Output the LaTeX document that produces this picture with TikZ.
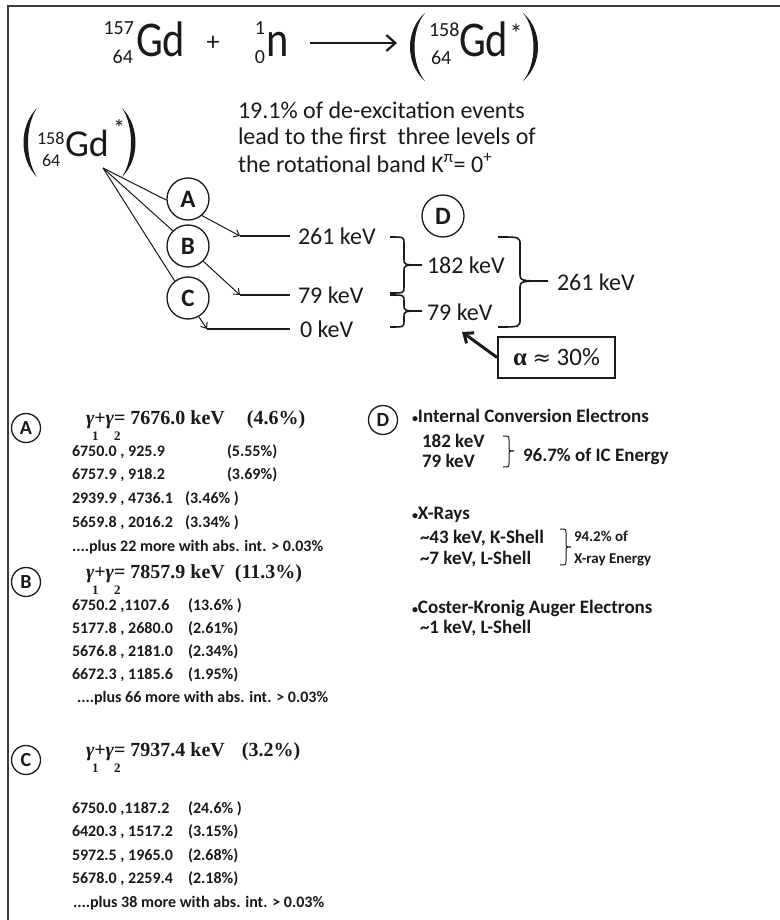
\documentclass[tikz,border=0pt]{standalone}
\usepackage{fontspec}
\setmainfont{Carlito}
\newfontfamily\nfont[FakeStretch=0.85]{Carlito}
\newfontfamily\serifb{Liberation Serif}
\newfontfamily\djv{DejaVu Sans}
\usetikzlibrary{arrows.meta}
\newcommand\fs[1]{\fontsize{#1}{#1}\selectfont}
\definecolor{ink}{HTML}{1A1A1A}
\begin{document}
\begin{tikzpicture}[x=1pt,y=-1pt,
  txt/.style={inner sep=0pt,outer sep=0pt,text=ink},
  circ/.style={circle,draw=ink,fill=white,line width=1.3,minimum size=42pt,inner sep=0pt,font=\bfseries\fs{25},text=ink},
  circs/.style={circle,draw=ink,fill=white,line width=1.3,minimum size=29pt,inner sep=0pt,font=\bfseries\fs{20},text=ink},
  row/.style={txt,anchor=base west,font=\bfseries\fs{16}},
  gam/.style={txt,anchor=base west,font=\serifb\bfseries\fs{20}},
  subs/.style={txt,anchor=base west,font=\serifb\bfseries\fs{13}},
  dtxt/.style={txt,anchor=base west,font=\bfseries\fs{19}},
  lvl/.style={txt,anchor=base west,font=\fs{24}},
  level/.style={draw=ink,line width=2.4},
  thinarr/.style={draw=ink,line width=1,-{Straight Barb[length=5pt,width=8pt]}},
  fan/.style={draw=ink,line width=1},
  bracepath/.style={draw=ink,line width=1.6},
  parfill/.style={fill=ink}]
\useasboundingbox (0,0) rectangle (779,920);
\fill[white] (0,0) rectangle (779,920);
\draw[ink!85,line width=1.6] (8,921) -- (8,6) -- (780,6);

% ---------- top equation ----------
\node[txt,anchor=base east,font=\fs{20}] (m157) at (134,35) {157};
\node[txt,anchor=base east,font=\fs{20}] (z64a) at (133,64) {64};
\node[txt,anchor=base west,font=\nfont\fs{50}] (gd1) at (136,57) {Gd};
\node[txt,font=\fs{26}] (plus) at (213,43) {+};
\node[txt,anchor=base east,font=\fs{20}] (m1) at (265,35) {1};
\node[txt,anchor=base east,font=\fs{20}] (z0) at (265,64) {0};
\node[txt,anchor=base west,font=\nfont\fs{50}] (nn) at (266,57) {n};
\coordinate (arrS) at (310,43);
\coordinate (arrE) at (397,43);
\draw[ink,line width=2.2,-{Straight Barb[length=9pt,width=16pt]}] (arrS) -- (arrE);
\fill[parfill] (425,13) .. controls (405,30) and (405,64) .. (425,81) .. controls (411,64) and (411,30) .. (425,13) -- cycle;
\node[txt,anchor=base west,font=\fs{20}] (m158) at (429,37) {158};
\node[txt,anchor=base west,font=\fs{20}] (z64b) at (431,65) {64};
\node[txt,anchor=base west,font=\nfont\fs{50}] (gd2) at (459,57) {Gd};
\node[txt,font=\fs{26}] (st1) at (516,33) {*};
\fill[parfill] (523,13) .. controls (543,30) and (543,64) .. (523,81) .. controls (537,64) and (537,30) .. (523,13) -- cycle;

% ---------- left excited nucleus ----------
\fill[parfill] (37,108) .. controls (19,126) and (19,159) .. (37,177) .. controls (25,159) and (25,126) .. (37,108) -- cycle;
\node[txt,anchor=base west,font=\fs{18}] (m158b) at (37,145) {158};
\node[txt,anchor=base west,font=\fs{18}] (z64c) at (42,167) {64};
\node[txt,anchor=base west,font=\fs{38}] (gd3) at (65,157) {Gd};
\node[txt,font=\fs{24}] (st2) at (119,128) {*};
\fill[parfill] (122,108) .. controls (140,126) and (140,159) .. (122,177) .. controls (134,159) and (134,126) .. (122,108) -- cycle;
\coordinate (apex) at (103,168);

% ---------- text ----------
\node[txt,anchor=base west,font=\fs{24}] (l1) at (238,119) {19.1\% of de-excitation events};
\node[txt,anchor=base west,font=\fs{24}] (l2) at (238,145) {lead to the first\ \ three levels of};
\node[txt,anchor=base west,font=\fs{24}] (l3) at (238,172) {the rotational band K\textsuperscript{π}= 0\textsuperscript{+}};

% ---------- levels ----------
\coordinate (l261s) at (240,236); \coordinate (l261e) at (290,236);
\coordinate (l79s) at (240,295);  \coordinate (l79e) at (290,295);
\coordinate (l0s) at (207,329);   \coordinate (l0e) at (290,329);
\draw[level] (l261s) -- (l261e);
\draw[level] (l79s) -- (l79e);
\draw[level] (l0s) -- (l0e);
\node[lvl] (t261) at (298,244) {261 keV};
\node[lvl] (t79) at (298,303) {79 keV};
\node[lvl] (t0) at (300,337) {0 keV};

\node[circ] (A) at (188,199) {A};
\node[circ] (B) at (188,246) {B};
\node[circ] (C) at (188,298) {C};
\node[circ] (D) at (443,216) {D};

\draw[fan] (apex) -- (A.183);
\draw[fan] (apex) -- (B.135);
\draw[fan] (apex) -- (C.128);
\draw[thinarr] (A.-50) -- (l261s);
\draw[thinarr] (B.-45) -- (l79s);
\draw[thinarr] (C.-60) -- (l0s);

% braces
\draw[bracepath] (390,237) .. controls (404,237) .. (404,243) -- (404,259) .. controls (404,265) .. (422,265)
   .. controls (404,265) .. (404,271) -- (404,287) .. controls (404,293) .. (390,293);
\draw[bracepath] (390,295) .. controls (404,295) .. (404,301) -- (404,305) .. controls (404,311) .. (422,311)
   .. controls (404,311) .. (404,317) -- (404,321) .. controls (404,327) .. (390,327);
\draw[bracepath] (498,237) .. controls (520,237) .. (520,245) -- (520,273) .. controls (520,281) .. (548,281)
   .. controls (520,281) .. (520,289) -- (520,319) .. controls (520,327) .. (498,327);
\node[lvl] (t182) at (427,273) {182 keV};
\node[lvl] (t79b) at (427,320) {79 keV};
\node[lvl] (t261b) at (557,290) {261 keV};

% alpha box
\node[draw=ink,line width=1.8,minimum width=117pt,minimum height=41pt,inner sep=0pt,font=\fs{25},text=ink] (alpha) at (556.5,357.5) {{\serifb\bfseries α} {\djv\fs{22}≈} 30\%};
\coordinate (atip) at (462,332);
\draw[ink,line width=3,-{Straight Barb[length=8pt,width=13pt]}] (alpha.west) -- (atip);

% ---------- section A ----------
\node[circs] (cA) at (26,428) {A};
\node[gam] (gA) at (86,424) {{\itshape γ}+{\itshape γ}= 7676.0 keV\hspace{22pt}(4.6\%)};
\node[subs] (gA1) at (92,440) {1};
\node[subs] (gA2) at (114,440) {2};
\node[row] (a1) at (72,456) {\makebox[155pt][l]{6750.0 , 925.9}(5.55\%)};
\node[row] (a2) at (72,479) {\makebox[155pt][l]{6757.9 , 918.2}(3.69\%)};
\node[row] (a3) at (72,503) {\makebox[113pt][l]{2939.9 , 4736.1}(3.46\% )};
\node[row] (a4) at (72,527) {\makebox[113pt][l]{5659.8 , 2016.2}(3.34\% )};
\node[row] (a5) at (72,551) {....plus 22 more with abs. int. > 0.03\%};

% ---------- section B ----------
\node[circs] (cB) at (26,582) {B};
\node[gam] (gB) at (86,578) {{\itshape γ}+{\itshape γ}= 7857.9 keV\hspace{10pt}(11.3\%)};
\node[subs] (gB1) at (92,594) {1};
\node[subs] (gB2) at (114,594) {2};
\node[row] (b1) at (72,610) {\makebox[116pt][l]{6750.2 ,1107.6}(13.6\% )};
\node[row] (b2) at (72,633) {\makebox[116pt][l]{5177.8 , 2680.0}(2.61\%)};
\node[row] (b3) at (72,656) {\makebox[116pt][l]{5676.8 , 2181.0}(2.34\%)};
\node[row] (b4) at (72,679) {\makebox[116pt][l]{6672.3 , 1185.6}(1.95\%)};
\node[row] (b5) at (77,702) {....plus 66 more with abs. int. > 0.03\%};

% ---------- section C ----------
\node[circs] (cC) at (26,760) {C};
\node[gam] (gC) at (86,756) {{\itshape γ}+{\itshape γ}= 7937.4 keV\hspace{17pt}(3.2\%)};
\node[subs] (gC1) at (92,772) {1};
\node[subs] (gC2) at (114,772) {2};
\node[row] (c1) at (72,813) {\makebox[116pt][l]{6750.0 ,1187.2}(24.6\% )};
\node[row] (c2) at (72,836) {\makebox[116pt][l]{6420.3 , 1517.2}(3.15\%)};
\node[row] (c3) at (72,860) {\makebox[116pt][l]{5972.5 , 1965.0}(2.68\%)};
\node[row] (c4) at (72,883) {\makebox[116pt][l]{5678.0 , 2259.4}(2.18\%)};
\node[row] (c5) at (73,907) {....plus 38 more with abs. int. > 0.03\%};

% ---------- section D ----------
\node[circs] (cD) at (383,420) {D};
\node[dtxt] (d1) at (412,422) {{\fs{12}•}Internal Conversion Electrons};
\node[dtxt] (d2) at (422,447) {182 keV};
\node[dtxt] (d3) at (422,467) {79 keV};
\draw[ink,line width=1] (503,436) .. controls (509,436) .. (509,440) -- (509,447) .. controls (509,451) .. (514,451)
   .. controls (509,451) .. (509,455) -- (509,463) .. controls (509,467) .. (503,467);
\node[dtxt] (d4) at (523,461) {96.7\% of IC Energy};
\node[dtxt] (d5) at (412,519) {{\fs{12}•}X-Rays};
\node[dtxt] (d6) at (420,543) {\textasciitilde 43 keV, K-Shell};
\node[dtxt] (d7) at (420,564) {\textasciitilde 7 keV, L-Shell};
\draw[ink,line width=1] (560,529) .. controls (566,529) .. (566,533) -- (566,543) .. controls (566,547) .. (571,547)
   .. controls (566,547) .. (566,551) -- (566,561) .. controls (566,565) .. (560,565);
\node[txt,anchor=base west,font=\bfseries\fs{15}] (d8) at (574,541) {94.2\% of};
\node[txt,anchor=base west,font=\bfseries\fs{15}] (d9) at (574,563) {X-ray Energy};
\node[dtxt] (d10) at (412,613) {{\fs{12}•}Coster-Kronig Auger Electrons};
\node[dtxt] (d11) at (420,633) {\textasciitilde 1 keV, L-Shell};
\end{tikzpicture}
\end{document}
